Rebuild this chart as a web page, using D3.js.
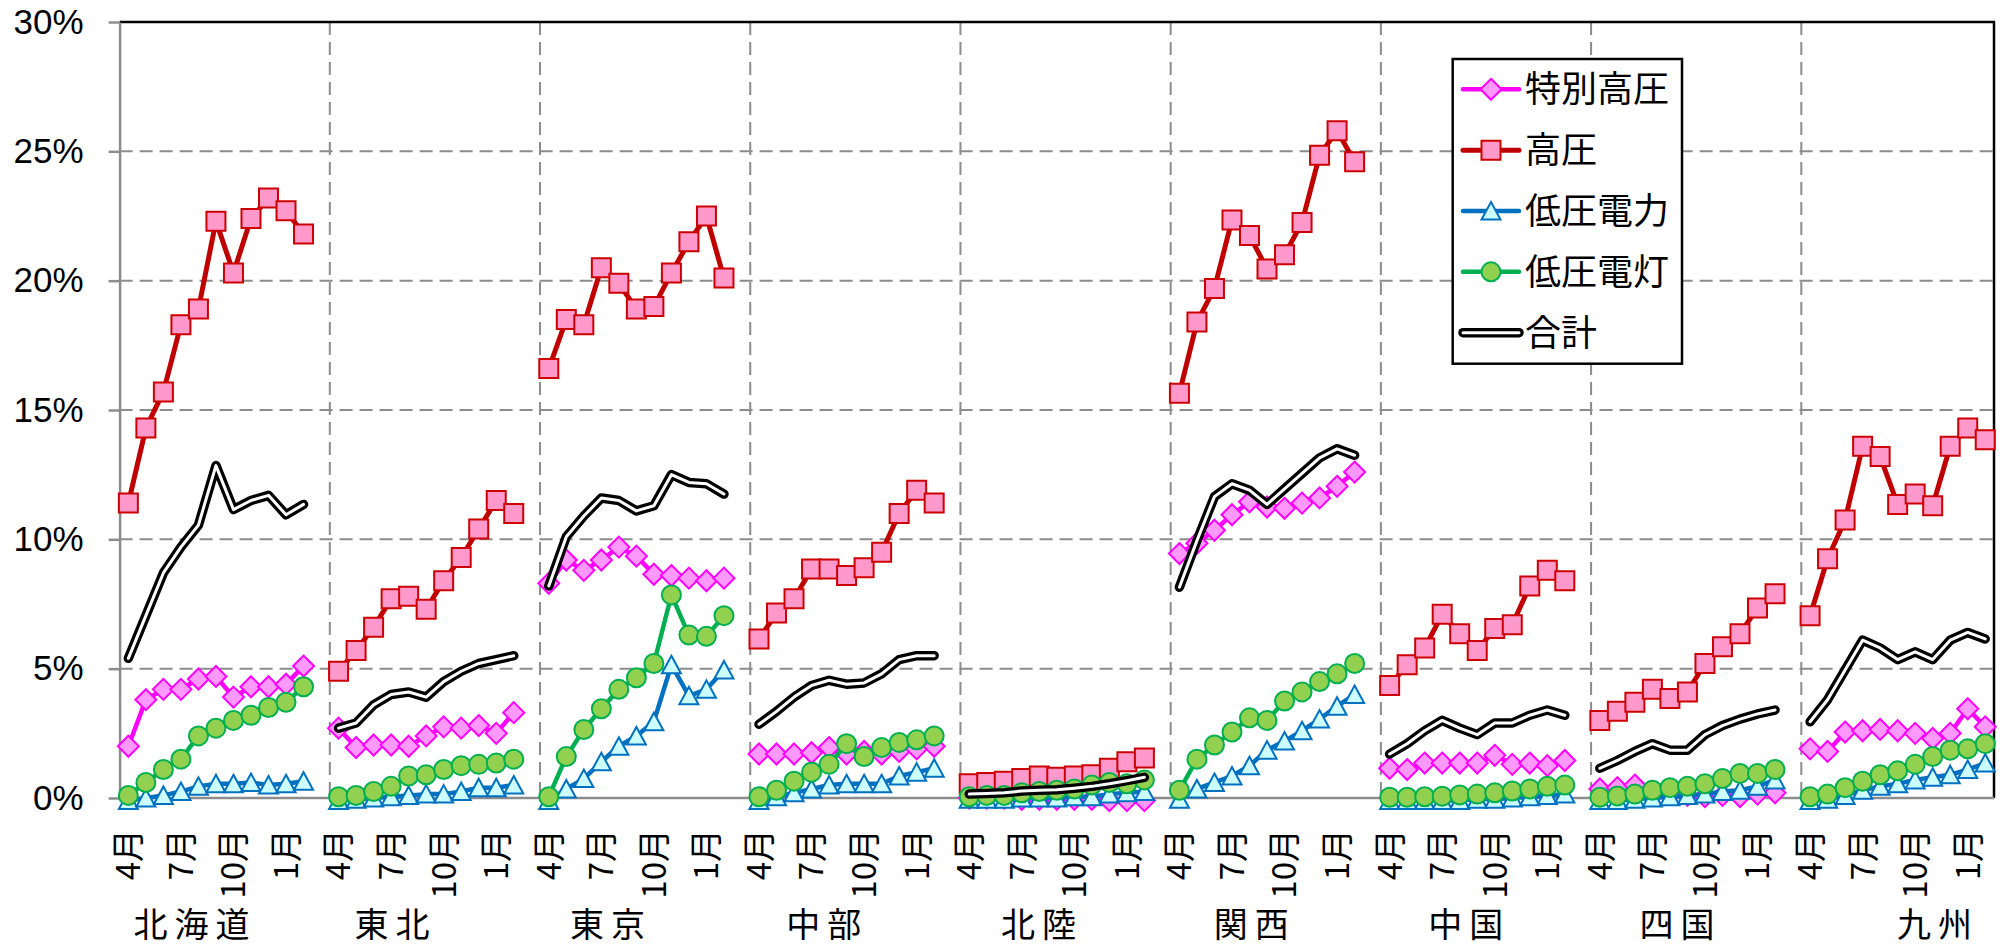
<!DOCTYPE html>
<html><head><meta charset="utf-8">
<script src="https://cdn.jsdelivr.net/npm/d3@7"></script>
<style>body{margin:0;background:#fff}svg{display:block}</style>
</head><body>
<svg id="chart" width="2003" height="946"></svg>
<script>
// ---------- data ----------
const regions = ["北海道","東北","東京","中部","北陸","関西","中国","四国","九州"];
const months = ["4月","5月","6月","7月","8月","9月","10月","11月","12月","1月","2月"];
const monthTickIdx = [0, 3, 6, 9];
const yTicks = [0, 5, 10, 15, 20, 25, 30];
const seriesNames = ["特別高圧","高圧","低圧電力","低圧電灯","合計"];

const tokubetsuKoatsu = [
  [2.0, 3.8, 4.2, 4.2, 4.6, 4.7, 3.9, 4.3, 4.3, 4.4, 5.1],
  [2.7, 1.95, 2.05, 2.05, 2.0, 2.4, 2.75, 2.7, 2.8, 2.5, 3.3],
  [8.3, 9.2, 8.8, 9.2, 9.7, 9.35, 8.65, 8.6, 8.5, 8.4, 8.5],
  [1.7, 1.7, 1.7, 1.75, 1.95, 1.7, 1.8, 1.7, 1.8, 1.9, 2.0],
  [0.0, 0.0, 0.0, -0.05, -0.05, -0.05, -0.05, -0.05, -0.1, -0.1, -0.1],
  [9.45, 9.85, 10.35, 10.95, 11.45, 11.25, 11.2, 11.4, 11.6, 12.05, 12.6],
  [1.15, 1.1, 1.35, 1.35, 1.35, 1.35, 1.65, 1.3, 1.35, 1.25, 1.45],
  [0.35, 0.4, 0.5, 0.25, 0.2, 0.1, 0.05, 0.1, 0.05, 0.15, 0.2],
  [1.9, 1.8, 2.55, 2.6, 2.65, 2.6, 2.5, 2.3, 2.5, 3.45, 2.75]
];
const koatsu = [
  [11.4, 14.3, 15.7, 18.3, 18.9, 22.3, 20.3, 22.4, 23.2, 22.7, 21.8],
  [4.9, 5.7, 6.6, 7.7, 7.8, 7.3, 8.4, 9.3, 10.4, 11.5, 11.0],
  [16.6, 18.5, 18.3, 20.5, 19.9, 18.9, 19.0, 20.3, 21.5, 22.5, 20.1],
  [6.15, 7.15, 7.7, 8.85, 8.85, 8.6, 8.9, 9.5, 11.0, 11.9, 11.4],
  [0.55, 0.6, 0.65, 0.75, 0.85, 0.8, 0.85, 0.9, 1.15, 1.4, 1.55],
  [15.65, 18.4, 19.7, 22.35, 21.75, 20.45, 21.0, 22.25, 24.85, 25.8, 24.6],
  [4.35, 5.15, 5.8, 7.1, 6.35, 5.7, 6.55, 6.7, 8.2, 8.8, 8.4],
  [3.0, 3.35, 3.7, 4.2, 3.85, 4.1, 5.2, 5.85, 6.35, 7.35, 7.9],
  [7.05, 9.25, 10.75, 13.6, 13.2, 11.35, 11.75, 11.3, 13.6, 14.3, 13.85]
];
const teiatsuDenryoku = [
  [-0.1, 0.0, 0.1, 0.25, 0.45, 0.55, 0.55, 0.6, 0.5, 0.55, 0.65],
  [-0.1, -0.05, 0.0, 0.05, 0.1, 0.15, 0.15, 0.25, 0.4, 0.4, 0.5],
  [-0.1, 0.35, 0.75, 1.4, 2.0, 2.4, 2.95, 5.15, 3.95, 4.2, 4.95],
  [-0.1, 0.05, 0.2, 0.35, 0.5, 0.55, 0.55, 0.55, 0.85, 1.0, 1.15],
  [-0.05, -0.05, -0.05, 0.0, 0.0, 0.0, 0.05, 0.05, 0.15, 0.2, 0.25],
  [-0.05, 0.35, 0.6, 0.85, 1.25, 1.85, 2.2, 2.6, 3.05, 3.55, 4.0],
  [-0.1, -0.1, -0.1, -0.1, -0.1, -0.05, -0.05, 0.0, 0.05, 0.1, 0.15],
  [-0.1, -0.1, -0.05, 0.0, 0.05, 0.1, 0.15, 0.25, 0.3, 0.45, 0.7],
  [-0.1, -0.05, 0.1, 0.3, 0.45, 0.55, 0.7, 0.8, 0.9, 1.1, 1.35]
];
const teiatsuDento = [
  [0.1, 0.6, 1.1, 1.5, 2.4, 2.7, 3.0, 3.2, 3.5, 3.7, 4.3],
  [0.05, 0.1, 0.25, 0.45, 0.85, 0.9, 1.1, 1.25, 1.3, 1.35, 1.5],
  [0.05, 1.6, 2.65, 3.45, 4.2, 4.65, 5.2, 7.85, 6.3, 6.25, 7.05],
  [0.05, 0.3, 0.65, 1.0, 1.3, 2.1, 1.6, 1.95, 2.15, 2.25, 2.4],
  [0.05, 0.1, 0.1, 0.2, 0.25, 0.3, 0.35, 0.5, 0.6, 0.55, 0.7],
  [0.3, 1.5, 2.05, 2.55, 3.1, 3.0, 3.75, 4.1, 4.5, 4.8, 5.2],
  [0.03, 0.03, 0.05, 0.07, 0.12, 0.15, 0.2, 0.27, 0.35, 0.45, 0.5],
  [0.03, 0.08, 0.15, 0.3, 0.4, 0.45, 0.55, 0.75, 0.95, 0.95, 1.1],
  [0.05, 0.15, 0.4, 0.65, 0.9, 1.05, 1.3, 1.6, 1.85, 1.9, 2.1]
];
const gokei = [
  [5.4, 7.05, 8.7, 9.7, 10.55, 12.85, 11.15, 11.5, 11.7, 10.95, 11.35],
  [2.7, 2.9, 3.6, 4.0, 4.1, 3.9, 4.5, 4.9, 5.2, 5.35, 5.5],
  [8.2, 10.1, 10.9, 11.6, 11.5, 11.1, 11.3, 12.5, 12.2, 12.15, 11.75],
  [2.85, 3.35, 3.9, 4.35, 4.55, 4.4, 4.45, 4.8, 5.35, 5.5, 5.5],
  [0.15, 0.17, 0.2, 0.27, 0.3, 0.32, 0.38, 0.45, 0.55, 0.67, 0.8],
  [8.15, 9.95, 11.65, 12.15, 11.9, 11.35, 11.95, 12.55, 13.15, 13.5, 13.25],
  [1.7, 2.1, 2.6, 3.0, 2.7, 2.45, 2.9, 2.9, 3.2, 3.4, 3.2],
  [1.15, 1.45, 1.8, 2.1, 1.85, 1.85, 2.45, 2.8, 3.05, 3.25, 3.4],
  [2.95, 3.8, 4.95, 6.1, 5.8, 5.35, 5.65, 5.35, 6.1, 6.4, 6.15]
];

// ---------- layout (label anchor, in category units from each region's start) ----------
const regionLabelOffset = [4.1, 3.55, 3.85, 4.2, 4.45, 4.6, 4.85, 4.9, 7.6];

// ---------- setup ----------
const svg = d3.select("#chart");
const CJK = "'Noto Sans CJK JP','Noto Sans',sans-serif";
const LAT = "'Liberation Sans',Arial,sans-serif";
const slots = months.length + 1;                 // 11 months + 1 gap per region
const nCat = regions.length * slots - 1;
const x = d3.scaleLinear().domain([0, nCat]).range([119.6, 1994]);
const y = d3.scaleLinear().domain([0, 30]).range([798, 22]);
const cx = (r, m) => x(r * slots + m + 0.5);

const gridColor = "#8c8c8c";

// horizontal grid lines
svg.append("g").selectAll("line").data(yTicks.filter(t => t > 0 && t < 30)).join("line")
  .attr("x1", x(0)).attr("x2", x(nCat)).attr("y1", d => y(d)).attr("y2", d => y(d))
  .attr("stroke", gridColor).attr("stroke-width", 2).attr("stroke-dasharray", "13,7");

// vertical grid lines at region boundaries
svg.append("g").selectAll("line").data(d3.range(1, regions.length)).join("line")
  .attr("x1", d => x(d * slots)).attr("x2", d => x(d * slots))
  .attr("y1", y(30)).attr("y2", y(0))
  .attr("stroke", gridColor).attr("stroke-width", 2).attr("stroke-dasharray", "13,7");

// plot border (top, right)
svg.append("path")
  .attr("d", `M${x(0)},${y(30)}H${x(nCat)}V${y(0)}`)
  .attr("fill", "none").attr("stroke", "#000").attr("stroke-width", 2.5);

// y axis
const yAxis = d3.axisLeft(y).tickValues(yTicks).tickSize(11).tickSizeOuter(0)
  .tickPadding(25).tickFormat(d => d + "%");
const ya = svg.append("g").attr("transform", `translate(${x(0)},0)`).call(yAxis);
ya.select(".domain").attr("stroke", gridColor).attr("stroke-width", 2.5);
ya.selectAll(".tick line").attr("stroke", gridColor).attr("stroke-width", 2.5);
ya.selectAll(".tick text").attr("font-family", LAT).attr("font-size", 35).attr("fill", "#000");

// x axis baseline
svg.append("line").attr("x1", x(0)).attr("x2", x(nCat)).attr("y1", y(0)).attr("y2", y(0))
  .attr("stroke", gridColor).attr("stroke-width", 2.5);

// month labels
const mLab = [];
regions.forEach((r, ri) => monthTickIdx.forEach(mi => mLab.push({ri, mi})));
svg.append("g").selectAll("text").data(mLab).join("text")
  .attr("transform", d => `translate(${cx(d.ri, d.mi)},829) rotate(-90)`)
  .attr("text-anchor", "end").attr("dy", "0.36em")
  .attr("font-family", CJK).attr("font-size", 33).attr("fill", "#000")
  .text(d => months[d.mi]);

// region labels
svg.append("g").selectAll("text").data(regions).join("text")
  .attr("x", (d, i) => x(i * slots + regionLabelOffset[i]) + 3.5)
  .attr("y", 925).attr("dy", "0.36em")
  .attr("text-anchor", "middle").attr("letter-spacing", 7)
  .attr("font-family", CJK).attr("font-size", 34).attr("fill", "#000")
  .text(d => d);

// ---------- markers ----------
function markerPath(type) {
  if (type === "diamond") return "M0,-10.5L10.5,0L0,10.5L-10.5,0Z";
  if (type === "square") return "M-9.5,-9.5H9.5V9.5H-9.5Z";
  if (type === "triangle") return "M0,-9L9.5,8.5L-9.5,8.5Z";
  if (type === "circle") return d3.symbol(d3.symbolCircle, Math.PI * 9.5 * 9.5)();
  return null;
}

const series = [
  {name: seriesNames[0], data: tokubetsuKoatsu, color: "#FF00FF", width: 4.5, marker: "diamond", fill: "#FF99FF", mstroke: "#FF00FF"},
  {name: seriesNames[1], data: koatsu, color: "#C00000", width: 5, marker: "square", fill: "#FF99CC", mstroke: "#CC0000"},
  {name: seriesNames[2], data: teiatsuDenryoku, color: "#0070C0", width: 4.5, marker: "triangle", fill: "#CCFFFF", mstroke: "#0070C0"},
  {name: seriesNames[3], data: teiatsuDento, color: "#00B050", width: 4.5, marker: "circle", fill: "#92D050", mstroke: "#00B050"},
  {name: seriesNames[4], data: gokei, color: "#000", width: 9.5, marker: null, double: true}
];

const line = d3.line().x(d => d.x).y(d => d.y);

series.forEach(s => {
  const g = svg.append("g");
  s.data.forEach((vals, ri) => {
    const pts = vals.map((v, mi) => ({x: cx(ri, mi), y: y(v)}));
    g.append("path").attr("d", line(pts)).attr("fill", "none")
      .attr("stroke", s.color).attr("stroke-width", s.width)
      .attr("stroke-linejoin", "round").attr("stroke-linecap", "round");
    if (s.double) {
      g.append("path").attr("d", line(pts)).attr("fill", "none")
        .attr("stroke", "#fff").attr("stroke-width", 3)
        .attr("stroke-linejoin", "round").attr("stroke-linecap", "round");
    }
    if (s.marker) {
      g.selectAll(null).data(pts).join("path")
        .attr("transform", d => `translate(${d.x},${d.y})`)
        .attr("d", markerPath(s.marker))
        .attr("fill", s.fill).attr("stroke", s.mstroke).attr("stroke-width", 2);
    }
  });
});

// ---------- legend ----------
const lg = svg.append("g");
lg.append("rect").attr("x", 1452.7).attr("y", 59).attr("width", 229.3).attr("height", 304.7)
  .attr("fill", "#fff").attr("stroke", "#000").attr("stroke-width", 2.5);
series.forEach((s, i) => {
  const ly = 89.3 + i * 60.85;
  const e = lg.append("g").attr("transform", `translate(0,${ly})`);
  e.append("line").attr("x1", 1463).attr("x2", 1519).attr("y1", 0).attr("y2", 0)
    .attr("stroke", s.color).attr("stroke-width", s.double ? 9.5 : s.width)
    .attr("stroke-linecap", "round");
  if (s.double) {
    e.append("line").attr("x1", 1463).attr("x2", 1519).attr("y1", 0).attr("y2", 0)
      .attr("stroke", "#fff").attr("stroke-width", 3).attr("stroke-linecap", "round");
  }
  if (s.marker) {
    e.append("path").attr("transform", "translate(1491,0)").attr("d", markerPath(s.marker))
      .attr("fill", s.fill).attr("stroke", s.mstroke).attr("stroke-width", 2);
  }
  e.append("text").attr("x", 1525).attr("y", 0).attr("dy", "0.36em")
    .attr("font-family", CJK).attr("font-size", 36).attr("fill", "#000").text(s.name);
});
</script>
</body></html>
